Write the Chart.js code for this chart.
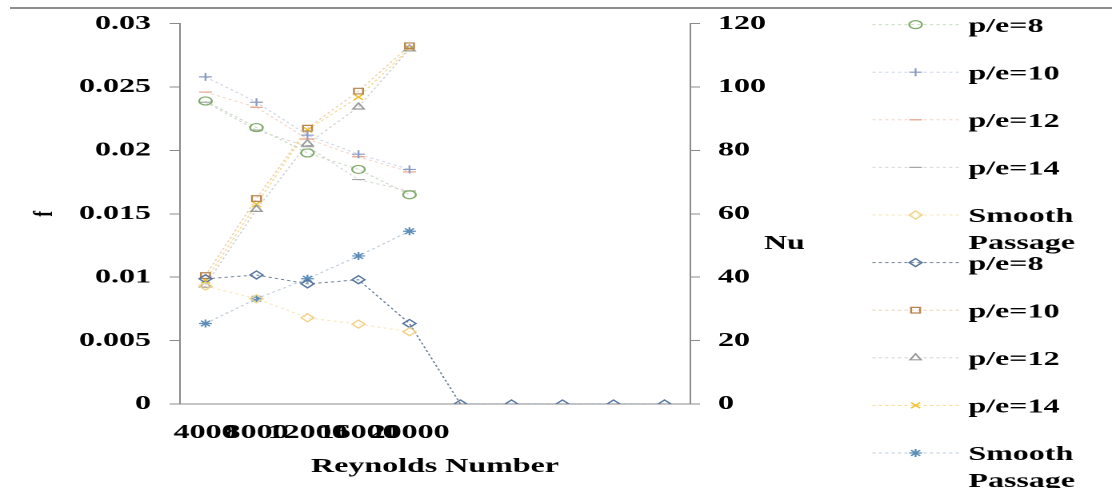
<!DOCTYPE html>
<html>
<head>
<meta charset="utf-8">
<script src="https://cdn.jsdelivr.net/npm/chart.js@4.4.1/dist/chart.umd.min.js"></script>
<style>
  html, body { margin: 0; padding: 0; background: #fff; overflow: hidden; }
  /* the source picture is stretched sideways, so the whole chart is drawn narrow and widened */
  #frame { position: absolute; left: 0; top: 0; width: 695px; height: 488px; transform: scaleX(1.6); transform-origin: 0 0; }
  #topline { position: absolute; left: 10px; right: 0; top: 7px; border-top: 2px solid #8e8e8e; }
</style>
</head>
<body>
<div id="frame"><canvas id="myChart"></canvas></div>
<div id="topline"></div>
<script>
var xLabels = ['4000', '8000', '12000', '16000', '20000', '', '', '', '', ''];
var fTicks = [0, 0.005, 0.01, 0.015, 0.02, 0.025, 0.03];
var nuTicks = [0, 20, 40, 60, 80, 100, 120];

// friction factor f (left axis)
var fPe8 = [0.0239, 0.0218, 0.0198, 0.0185, 0.0165];
var fPe10 = [0.0258, 0.0238, 0.0212, 0.0197, 0.0185];
var fPe12 = [0.0246, 0.0234, 0.0209, 0.0195, 0.0183];
var fPe14 = [0.0238, 0.0216, 0.0203, 0.0177, 0.0168];
var fSmooth = [0.0093, 0.0083, 0.0068, 0.0063, 0.0057];

// Nusselt number (right axis)
var nuPe8 = [39.5, 40.7, 37.9, 39.2, 25.4, 0, 0, 0, 0, 0];
var nuPe10 = [40.5, 64.8, 87.0, 98.7, 113.0];
var nuPe12 = [37.5, 61.4, 82.1, 93.7, 112.0];
var nuPe14 = [39.0, 63.0, 86.5, 96.8, 112.2];
var nuSmooth = [25.4, 33.2, 39.5, 46.7, 54.5];

var FONT = 'Liberation Serif';

function series(label, data, axis, style, color, lineColor) {
  return {
    label: label,
    data: data,
    yAxisID: axis,
    pointStyle: style,
    pointRadius: 4,
    pointHoverRadius: 4,
    pointBorderColor: color,
    pointBackgroundColor: 'rgba(255,255,255,0)',
    pointBorderWidth: 1.2,
    borderColor: lineColor,
    borderWidth: 1,
    borderDash: [2, 2],
    fill: false,
    tension: 0
  };
}

var datasets = [
  series('p/e=8', fPe8, 'y', 'circle', '#7eaa6a', '#c9dbc0'),
  series('p/e=10', fPe10, 'y', 'cross', '#8a9cc4', '#cfd6e8'),
  series('p/e=12', fPe12, 'y', 'line', '#e3a088', '#f2d5c8'),
  series('p/e=14', fPe14, 'y', 'line', '#a6a6a6', '#d8d8d8'),
  series('Smooth Passage', fSmooth, 'y', 'rectRot', '#f0d38a', '#f7e6bd'),
  series('p/e=8', nuPe8, 'y1', 'rectRot', '#5876a0', '#6d8099'),
  series('p/e=10', nuPe10, 'y1', 'rect', '#b8844f', '#ecd2b0'),
  series('p/e=12', nuPe12, 'y1', 'triangle', '#9a9a9a', '#d2d2d2'),
  series('p/e=14', nuPe14, 'y1', 'crossRot', '#f0c030', '#f5dc90'),
  series('Smooth Passage', nuSmooth, 'y1', 'star', '#5b8db8', '#bccbdb')
];

// legend with line + marker samples, plus the two axis titles the way the source shows them
var sideLegend = {
  id: 'sideLegend',
  afterDraw: function(chart) {
    var ctx = chart.ctx;
    var area = chart.chartArea;
    var x0 = area.right + 114, x1 = area.right + 168, xm = (x0 + x1) / 2, xt = area.right + 174;
    ctx.save();
    ctx.font = 'bold 20px "' + FONT + '"';
    ctx.textBaseline = 'middle';
    chart.data.datasets.forEach(function(ds, i) {
      var y = area.top + 1 + i * 47.6;
      ctx.strokeStyle = ds.borderColor;
      ctx.lineWidth = 1;
      ctx.setLineDash([2, 2]);
      ctx.beginPath();
      ctx.moveTo(x0, y);
      ctx.lineTo(x1, y);
      ctx.stroke();
      ctx.setLineDash([]);
      ctx.strokeStyle = ds.pointBorderColor;
      ctx.fillStyle = 'rgba(255,255,255,0)';
      ctx.lineWidth = ds.pointBorderWidth;
      Chart.helpers.drawPoint(ctx, {pointStyle: ds.pointStyle, radius: ds.pointRadius, borderWidth: ds.pointBorderWidth, rotation: 0}, xm, y);
      ctx.fillStyle = '#000';
      ctx.textAlign = 'left';
      ds.label.split(' ').forEach(function(line, k) {
        ctx.fillText(line, xt, y + 2 + k * 27);
      });
    });
    ctx.textAlign = 'center';
    ctx.fillText('Nu', area.right + 59, (area.top + area.bottom) / 2 + 30);
    // left title, turned on its side
    ctx.translate(28, (area.top + area.bottom) / 2);
    ctx.rotate(-Math.PI / 2);
    ctx.font = 'bold 17px "' + FONT + '"';
    ctx.fillText('f', 0, 0);
    ctx.restore();
  }
};

var ctx = document.getElementById('myChart').getContext('2d');
var myChart = new Chart(ctx, {
  type: 'line',
  data: { labels: xLabels, datasets: datasets },
  plugins: [sideLegend],
  options: {
    responsive: true,
    maintainAspectRatio: false,
    animation: false,
    devicePixelRatio: 2,
    layout: { padding: { left: 0, right: 0, top: 21, bottom: 0 } },
    plugins: {
      legend: { display: false },
      tooltip: { enabled: false }
    },
    scales: {
      x: {
        type: 'category',
        offset: true,
        grid: { display: false },
        border: { display: true, color: '#8a8a8a', width: 1 },
        ticks: { autoSkip: false, maxRotation: 0, minRotation: 0, padding: 9, color: '#000', font: { family: FONT, size: 20, weight: 'bold' } },
        title: { display: true, text: 'Reynolds Number', color: '#000', font: { family: FONT, size: 20, weight: 'bold' }, padding: { top: 0, bottom: 9 } },
        afterFit: function(scale) { scale.height = 84; }
      },
      y: {
        position: 'left',
        min: 0,
        max: 0.03,
        afterBuildTicks: function(scale) { scale.ticks = fTicks.map(function(v) { return {value: v}; }); },
        grid: { drawOnChartArea: false, tickLength: 6.5, color: '#8a8a8a' },
        border: { color: '#8a8a8a', width: 1 },
        ticks: {
          padding: 11.6,
          color: '#000',
          font: { family: FONT, size: 20, weight: 'bold' },
          callback: function(v) { return String(+v.toFixed(3)); }
        },
        afterFit: function(scale) { scale.width = 112.5; }
      },
      y1: {
        position: 'right',
        min: 0,
        max: 120,
        afterBuildTicks: function(scale) { scale.ticks = nuTicks.map(function(v) { return {value: v}; }); },
        grid: { drawOnChartArea: false, tickLength: 6.25, color: '#8a8a8a' },
        border: { color: '#8a8a8a', width: 1 },
        ticks: {
          padding: 11.25,
          color: '#000',
          font: { family: FONT, size: 20, weight: 'bold' },
          callback: function(v) { return String(v); }
        },
        afterFit: function(scale) { scale.width = 263.75; }
      }
    }
  }
});
</script>
</body>
</html>
